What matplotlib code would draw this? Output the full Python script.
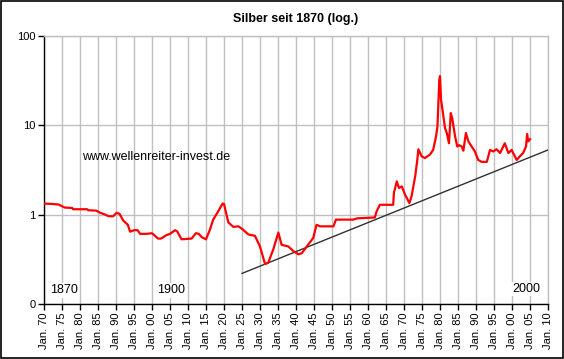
import matplotlib
matplotlib.use("Agg")
import matplotlib.pyplot as plt
from matplotlib.patches import Rectangle
from matplotlib.ticker import FixedLocator, FixedFormatter, NullLocator

plt.rcParams.update({
    "font.family": ["Liberation Sans", "DejaVu Sans"],
    "font.size": 8,
    "axes.linewidth": 1.0,
})

# silver price (USD/oz, log scale)
YEARS = [
    1870, 1872, 1874, 1875.8, 1877.8, 1878.1, 1882, 1882.3, 1884.5, 1885.6,
    1887, 1888, 1889.2, 1890.2, 1891, 1892, 1893.3, 1893.9, 1895, 1896,
    1896.7, 1898.5, 1900, 1901.7, 1902.5, 1904, 1905, 1906.4, 1907, 1908.2,
    1911, 1912.2, 1913, 1913.8, 1915, 1916.1, 1917, 1918.4, 1919.6, 1920,
    1921.2, 1922.6, 1924, 1924.9, 1926.8, 1928.6, 1930, 1931.4, 1932.3, 1933.7,
    1935.1, 1936, 1937.9, 1939.3, 1940.7, 1941.6, 1943, 1944.8, 1945.7, 1946.7,
    1950.4, 1951.1, 1955.9, 1957, 1961.9, 1962.4, 1963.3, 1967, 1967.2, 1968,
    1968.6, 1969.4, 1970.3, 1971.5, 1972.1, 1973.1, 1973.7, 1974, 1974.9, 1975.8,
    1977.2, 1978.1, 1978.9, 1979.3, 1979.8, 1980.0, 1980.3, 1980.7, 1981.4, 1981.9,
    1982.5, 1983.0, 1983.4, 1984.2, 1984.8, 1985.3, 1986, 1986.5, 1987.2, 1987.9,
    1988.8, 1989.7, 1990.6, 1991.6, 1993, 1993.9, 1994.8, 1995.7, 1996.7, 1998,
    1999, 1999.9, 2001.3, 2002.2, 2003.1, 2003.9, 2004.2, 2004.5, 2005,
]
PRICES = [
    1.33, 1.32, 1.30, 1.20, 1.19, 1.15, 1.15, 1.12, 1.11, 1.05,
    1.00, 0.96, 0.96, 1.05, 1.02, 0.86, 0.77, 0.645, 0.67, 0.67,
    0.61, 0.61, 0.62, 0.54, 0.54, 0.59, 0.61, 0.67, 0.65, 0.53,
    0.54, 0.62, 0.61, 0.56, 0.53, 0.68, 0.88, 1.09, 1.33, 1.32,
    0.82, 0.73, 0.74, 0.70, 0.60, 0.58, 0.44, 0.28, 0.29, 0.41,
    0.63, 0.46, 0.44, 0.39, 0.36, 0.37, 0.44, 0.55, 0.77, 0.74,
    0.74, 0.88, 0.88, 0.91, 0.93, 1.09, 1.29, 1.29, 1.75, 2.36,
    1.99, 2.07, 1.67, 1.35, 1.60, 2.68, 4.1, 5.4, 4.5, 4.3,
    4.7, 5.3, 7.5, 9.7, 32, 35.6, 19.3, 14.9, 9.3, 8.2,
    6.3, 13.7, 12, 7.5, 5.8, 6.0, 5.8, 5.2, 8.2, 6.6,
    5.8, 5.1, 4.1, 3.9, 3.9, 5.3, 5.1, 5.4, 4.9, 6.3,
    4.9, 5.3, 4.1, 4.5, 4.9, 5.8, 8.0, 6.6, 7.0,
]

# trend line (log-linear support)
TREND_YEARS = [1925, 2010]
TREND_PRICES = [0.22, 5.3]

TICK_YEARS = list(range(1870, 2011, 5))
TICK_LABELS = [f"Jan. {y % 100:02d}" for y in TICK_YEARS]
Y_TICKS = [0.1, 1, 10, 100]
Y_LABELS = ["0", "1", "10", "100"]

fig = plt.figure(figsize=(5.64, 3.59), dpi=100)
ax = fig.add_axes([0.078, 0.1532, 0.8936, 0.7465])

ax.set_yscale("log")
ax.set_xlim(1870, 2010)
ax.set_ylim(0.1, 100)

ax.yaxis.set_major_locator(FixedLocator(Y_TICKS))
ax.yaxis.set_major_formatter(FixedFormatter(Y_LABELS))
ax.yaxis.set_minor_locator(NullLocator())
ax.xaxis.set_major_locator(FixedLocator(TICK_YEARS))
ax.xaxis.set_major_formatter(FixedFormatter(TICK_LABELS))
ax.tick_params(axis="x", rotation=90, length=4, width=1, pad=2, labelsize=8)
ax.tick_params(axis="y", length=4, width=1, pad=2, labelsize=8)

ax.grid(True, color="#c0c0c0", linewidth=1.0)
ax.set_axisbelow(True)
for side in ["top", "right"]:
    ax.spines[side].set_color("#c0c0c0")

ax.plot(TREND_YEARS, TREND_PRICES, color="#303030", linewidth=1.0, zorder=3)
ax.plot(YEARS, PRICES, color="#ff0000", linewidth=1.6, zorder=4)

box = dict(facecolor="white", edgecolor="none", pad=1)
ax.text(1871.7, 0.142, "1870", fontsize=9, ha="left", va="center", bbox=box, zorder=5)
ax.text(1901.4, 0.142, "1900", fontsize=9, ha="left", va="center", bbox=box, zorder=5)
ax.text(2007.8, 0.147, "2000", fontsize=9, ha="right", va="center", bbox=box, zorder=5)
ax.text(1880.6, 4.39, "www.wellenreiter-invest.de", fontsize=9, ha="left",
        va="center", zorder=5)

fig.text(0.525, 0.947, "Silber seit 1870 (log.)", fontsize=9, fontweight="bold",
         ha="center", va="center")

fig.patches.append(Rectangle((0.001, 0.002), 0.997, 0.996, transform=fig.transFigure,
                             fill=False, edgecolor="black", linewidth=1.2))

fig.savefig("out.png", dpi=100)
